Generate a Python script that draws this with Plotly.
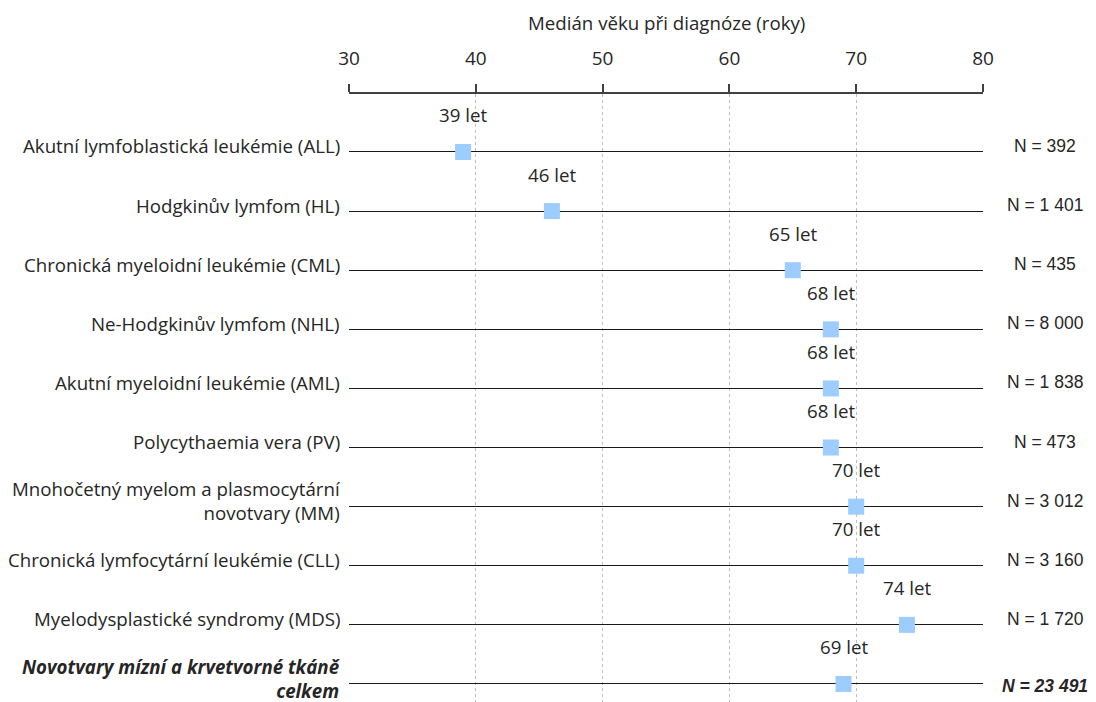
import plotly.graph_objects as go

categories = [
    "Akutní lymfoblastická leukémie (ALL)",
    "Hodgkinův lymfom (HL)",
    "Chronická myeloidní leukémie (CML)",
    "Ne-Hodgkinův lymfom (NHL)",
    "Akutní myeloidní leukémie (AML)",
    "Polycythaemia vera (PV)",
    "Mnohočetný myelom a plasmocytární<br>novotvary (MM)",
    "Chronická lymfocytární leukémie (CLL)",
    "Myelodysplastické syndromy (MDS)",
    "<b><i>Novotvary mízní a krvetvorné tkáně<br>celkem</i></b>",
]
median_age = [39, 46, 65, 68, 68, 68, 70, 70, 74, 69]
n_labels = ["N = 392", "N = 1 401", "N = 435", "N = 8 000", "N = 1 838",
            "N = 473", "N = 3 012", "N = 3 160", "N = 1 720", "<b><i>N = 23 491</i></b>"]
x_ticks = [30, 40, 50, 60, 70, 80]
axis_title = "Medián věku při diagnóze (roky)"

pos = list(range(len(categories)))
TXT = "#262626"
LBL_FONT = "Open Sans"
FS = 18.7

fig = go.Figure()
fig.add_trace(go.Scatter(
    x=median_age, y=pos, mode="markers",
    marker=dict(symbol="square", size=16, color="#9DCCFE",
                line=dict(width=0)),
    hoverinfo="skip", showlegend=False,
))

annotations = []
for i, (cat, v, n) in enumerate(zip(categories, median_age, n_labels)):
    last = i == len(categories) - 1
    annotations.append(dict(
        x=0, xref="paper", y=i, yref="y", text=cat, showarrow=False,
        xanchor="right", yanchor="middle", xshift=-7,
        yshift=5 if last else 6, align="right",
        font=dict(family=LBL_FONT, size=FS, color=TXT)))
    annotations.append(dict(
        x=v, xref="x", y=i, yref="y", text=f"{v} let", showarrow=False,
        xanchor="center", yanchor="middle", yshift=37,
        font=dict(family=LBL_FONT, size=FS, color=TXT)))
    annotations.append(dict(
        x=1, xref="paper", y=i, yref="y", text=n, showarrow=False,
        xanchor="center", yanchor="middle", xshift=62,
        yshift=-2 if last else 6,
        font=dict(family="Liberation Sans", size=17.5, color=TXT)))

annotations.append(dict(
    x=0.5, xref="paper", y=1, yref="paper", yshift=72, text=axis_title,
    showarrow=False, xanchor="center", yanchor="middle",
    font=dict(family=LBL_FONT, size=FS, color=TXT)))

fig.update_layout(
    width=1088, height=694,
    margin=dict(l=341, r=113, t=86, b=0),
    plot_bgcolor="white", paper_bgcolor="white",
    annotations=annotations,
    xaxis=dict(
        side="top", range=[30, 80], tickvals=x_ticks,
        showline=True, linecolor="#404040", linewidth=1.5,
        ticks="outside", ticklen=8, tickcolor="#404040", tickwidth=1.5,
        ticklabelstandoff=12,
        tickfont=dict(family=LBL_FONT, size=19, color=TXT),
        showgrid=True, gridcolor="#BDBDBD", griddash="dot", gridwidth=1,
        zeroline=False,
    ),
    yaxis=dict(
        range=[9.305, -0.981], tickvals=pos, showticklabels=False,
        showgrid=True, gridcolor="#1a1a1a", gridwidth=1.2,
        zeroline=False, showline=False,
    ),
)

fig.write_html("out.html")
